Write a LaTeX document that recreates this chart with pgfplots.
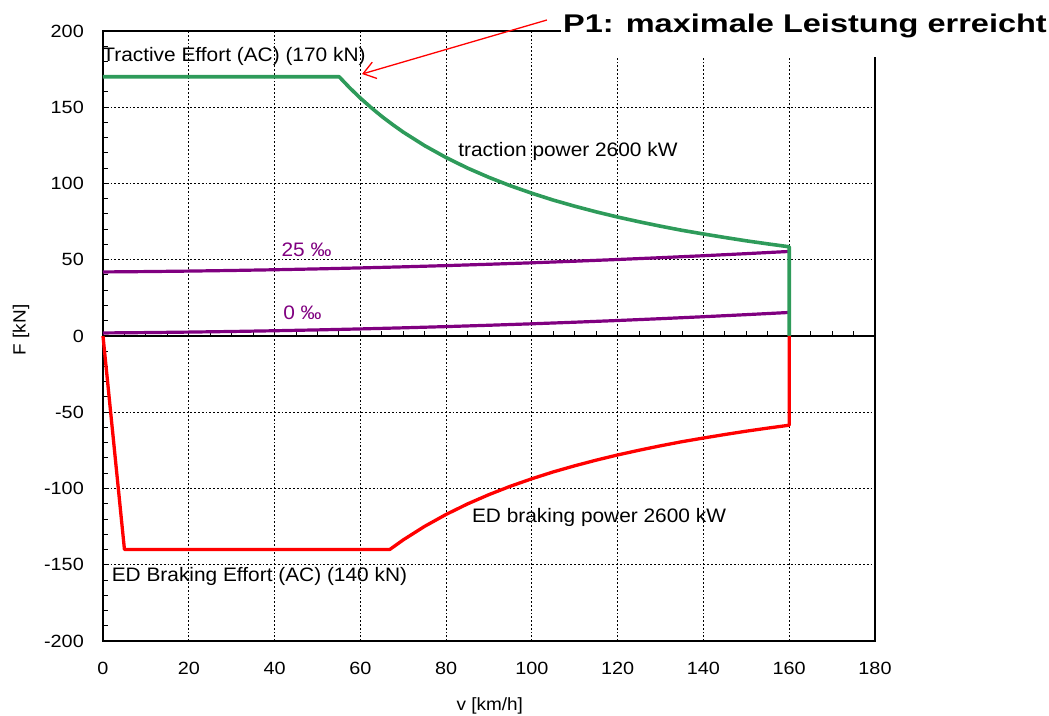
\documentclass[border=0pt]{standalone}
\usepackage{fontspec}
\setmainfont{Liberation Sans}[FakeStretch=1.07]
\newfontfamily\tickfont{Liberation Sans}[FakeStretch=1.12]
\newfontfamily\pone{Liberation Sans}[FakeStretch=1.27]
\usepackage{pgfplots}
\pgfplotsset{compat=1.18}
\usetikzlibrary{arrows.meta}
\definecolor{tgreen}{RGB}{46,155,90}
\definecolor{tpurple}{RGB}{128,0,128}
\definecolor{tred}{RGB}{255,0,0}
\begin{document}
\begin{tikzpicture}
\useasboundingbox (0,0) rectangle (1049pt,715pt);
% zero line with minor ticks
\begin{axis}[at={(103pt,74pt)}, anchor=south west, width=772pt, height=610pt, scale only axis,
  xmin=0, xmax=180, ymin=-200, ymax=200,
  axis x line=middle, axis y line=none,
  xtick={0,5,...,180}, xticklabels={}, ytick=\empty,
  xtick align=inside, major tick length=5pt,
  axis line style={-, line width=1.3pt, black},
  every tick/.style={black, line width=1pt}]
\end{axis}
\begin{axis}[at={(103pt,74pt)}, anchor=south west, width=772pt, height=610pt, scale only axis,
  xmin=0, xmax=180, ymin=-200, ymax=200, clip=false,
  xtick={0,20,...,180}, xticklabels={0,20,40,60,80,100,120,140,160,180},
  ytick={-200,-150,...,200}, yticklabels={-200,-150,-100,-50,0,50,100,150,200},
  minor ytick={-190,-180,...,190},
  xtick pos=bottom, ytick pos=left, tick align=inside,
  major tick length=0pt, minor tick length=5pt,
  every tick/.style={black, line width=1pt},
  grid=major,
  major grid style={black, line width=0.9pt, dash pattern=on 1.8pt off 2pt},
  axis line style={line width=1.3pt, black},
  xticklabel style={font=\tickfont\fontsize{17.7}{20}\selectfont, inner sep=0pt, anchor=north, yshift=-21pt},
  yticklabel style={font=\tickfont\fontsize{17.7}{20}\selectfont, inner sep=0pt, anchor=east, xshift=-19pt},
  xlabel={v [km/h]}, ylabel={F [kN]},
  every axis x label/.style={at={(axis description cs:0.501,-0.1066)}, anchor=center, font=\fontsize{17.7}{20}\selectfont},
  every axis y label/.style={at={(axis description cs:-0.106,0.51)}, anchor=center, rotate=90, font=\fontsize{17.7}{20}\selectfont},
  ]
% resistance curves
\addplot[tpurple, line width=3.2pt] coordinates {
(0,2.00) (10,2.24) (20,2.56) (30,2.96) (40,3.44) (50,4.00) (60,4.64) (70,5.36) (80,6.16)
(90,7.04) (100,8.00) (110,9.04) (120,10.16) (130,11.36) (140,12.64) (150,14.00) (160,15.44)};
\addplot[tpurple, line width=3.2pt] coordinates {
(0,42.00) (10,42.24) (20,42.56) (30,42.96) (40,43.44) (50,44.00) (60,44.64) (70,45.36) (80,46.16)
(90,47.04) (100,48.00) (110,49.04) (120,50.16) (130,51.36) (140,52.64) (150,54.00) (160,55.44)};
% traction
\addplot[tgreen, line width=3.6pt, line join=round] coordinates {
(0,170) (55.06,170) (57.5,162.8) (60,156.0) (62.5,149.8) (65,144.0) (67.5,138.7) (70,133.7)
(75,124.8) (80,117.0) (85,110.1) (90,104.0) (95,98.5) (100,93.6) (105,89.1) (110,85.1)
(115,81.4) (120,78.0) (125,74.9) (130,72.0) (135,69.3) (140,66.9) (145,64.6) (150,62.4)
(155,60.4) (160,58.5) (160,0)};
% braking
\addplot[tred, line width=3.3pt, line join=round] coordinates {
(0,0) (5,-140) (66.86,-140) (70,-133.7) (75,-124.8) (80,-117.0) (85,-110.1) (90,-104.0)
(95,-98.5) (100,-93.6) (105,-89.1) (110,-85.1) (115,-81.4) (120,-78.0) (125,-74.9)
(130,-72.0) (135,-69.3) (140,-66.9) (145,-64.6) (150,-62.4) (155,-60.4) (160,-58.5) (160,0)};
% labels
\node[anchor=base west, inner sep=0pt, font=\fontsize{19.5}{22}\selectfont] at (axis cs:-0.2,179.7) {Tractive Effort (AC) (170 kN)};
\node[anchor=base west, inner sep=0pt, font=\fontsize{19.5}{22}\selectfont] at (axis cs:82.8,117.4) {traction power 2600 kW};
\node[anchor=base west, inner sep=0pt, text=tpurple, font=\fontsize{19.5}{22}\selectfont] at (axis cs:41.6,52.1) {25 ‰};
\node[anchor=base west, inner sep=0pt, text=tpurple, font=\fontsize{19.5}{22}\selectfont] at (axis cs:42.0,11.0) {0 ‰};
\node[anchor=base west, inner sep=0pt, font=\fontsize{19.5}{22}\selectfont] at (axis cs:86.0,-122.6) {ED braking power 2600 kW};
\node[anchor=base west, inner sep=0pt, font=\fontsize{19.5}{22}\selectfont] at (axis cs:2.0,-161.1) {ED Braking Effort (AC) (140 kN)};
\draw[tred, line width=1.3pt, -{Straight Barb[length=12pt, width=17pt, line width=1.3pt]}] (axis cs:103.5,207.2) -- (axis cs:60.4,171.8);
\end{axis}
\fill[white] (561pt,658pt) rectangle (1049pt,715pt);
\node[anchor=base west, inner sep=0pt, font=\pone\bfseries\fontsize{25.6}{28}\selectfont] at (563pt,682pt) {P1: maximale Leistung erreicht};
\end{tikzpicture}
\end{document}
